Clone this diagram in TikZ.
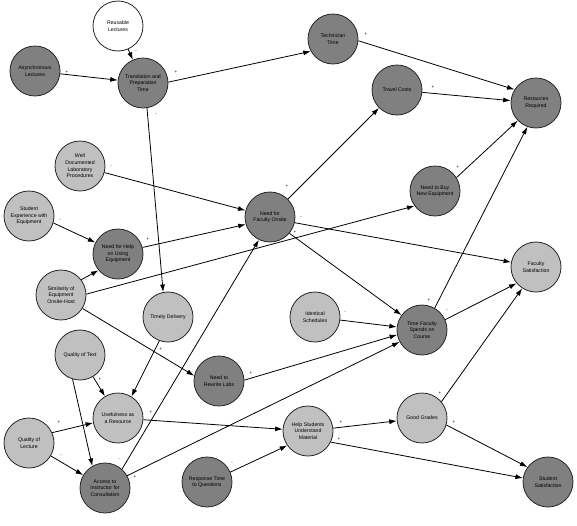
\documentclass[tikz,border=0pt]{standalone}
\usepackage{fontspec}
\setmainfont{Liberation Sans}
\usetikzlibrary{arrows.meta}
\definecolor{darkfill}{HTML}{808080}
\definecolor{lightfill}{HTML}{C0C0C0}
\tikzset{
  var/.style={circle, draw=black!85, line width=0.8pt, minimum size=50pt, inner sep=0pt,
    align=center, font=\fontsize{5.2}{6.6}\selectfont},
  darkvar/.style={var, fill=darkfill},
  lightvar/.style={var, fill=lightfill},
  whitevar/.style={var, fill=white},
  link/.style={draw=black, line width=0.8pt, -{Latex[length=7.5pt,width=5pt]}},
  sign/.style={font=\fontsize{4.5}{5}\selectfont, inner sep=0pt}
}
\begin{document}
\begin{tikzpicture}[x=1pt,y=-1pt]
\useasboundingbox (0,0) rectangle (577,525);
% nodes
\node[whitevar] (reu) at (118,26) {Reusable\\Lectures};
\node[darkvar] (asy) at (35,71) {Asynchronous\\Lectures};
\node[darkvar] (tr) at (143,83) {Translation and\\Preparation\\Time};
\node[darkvar] (tech) at (333,39) {Technician\\Time};
\node[darkvar] (trav) at (397,90) {Travel Costs};
\node[darkvar] (rr) at (536,103) {Resources\\Required};
\node[darkvar] (buy) at (435,191) {Need to Buy\\New Equipment};
\node[lightvar] (wd) at (80,166) {Well\\Documented\\Laboratory\\Procedures};
\node[lightvar] (se) at (29,216) {Student\\Experience with\\Equipment};
\node[darkvar] (nh) at (118,254) {Need for Help\\on Using\\Equipment};
\node[darkvar] (fo) at (270,217) {Need for\\Faculty Onsite};
\node[lightvar] (fs) at (536,267) {Faculty\\Satisfaction};
\node[darkvar] (tf) at (422,330) {Time Faculty\\Spends on\\Course};
\node[lightvar] (sim) at (61,295) {Similarity of\\Equipment\\Onsite-Host};
\node[lightvar] (td) at (168,317) {Timely Delivery};
\node[lightvar] (ids) at (315,317) {Identical\\Schedules};
\node[darkvar] (rw) at (219,381) {Need to\\Rewrite Labs};
\node[lightvar] (qt) at (80,355) {Quality of Text};
\node[lightvar] (use) at (118,418) {Usefulness as\\a Resource};
\node[lightvar] (ql) at (29,443) {Quality of\\Lecture};
\node[darkvar] (acc) at (105,488) {Access to\\Instructor for\\Consultation};
\node[lightvar] (hs) at (308,431) {Help Students\\Understand\\Material};
\node[darkvar] (rt) at (207,482) {Response Time\\to Questions};
\node[lightvar] (gg) at (422,418) {Good Grades};
\node[darkvar] (ss) at (548,482) {Student\\Satisfaction};
% links
\draw[link] (reu) -- (tr);
\draw[link] (asy) -- (tr);
\draw[link] (tr.2) -- (tech.209);
\draw[link] (tr.-81) -- (td.101);
\draw[link] (tech.-4) -- (rr.148);
\draw[link] (trav) -- (rr);
\draw[link] (fo) -- (trav);
\draw[link] (buy.32) -- (rr.224);
\draw[link] (tf.60) -- (rr.250);
\draw[link] (wd) -- (fo);
\draw[link] (se.-16) -- (nh.153);
\draw[link] (nh.15) -- (fo.197);
\draw[link] (sim.37) -- (nh.220);
\draw[link] (sim.2) -- (buy.216);
\draw[link] (sim.-32) -- (rw.168);
\draw[link] (fo.-13) -- (fs.169);
\draw[link] (fo.-40) -- (tf.144);
\draw[link] (tf.24) -- (fs.220);
\draw[link] (gg.40) -- (fs.237);
\draw[link] (ids) -- (tf);
\draw[link] (rw.2) -- (tf.191);
\draw[link] (acc.29) -- (tf.208);
\draw[link] (acc.48) -- (fo.244);
\draw[link] (td.250) -- (use.58);
\draw[link] (qt) -- (use);
\draw[link] (qt.-107) -- (acc.120);
\draw[link] (ql.24) -- (use.191);
\draw[link] (ql) -- (acc);
\draw[link] (use) -- (hs);
\draw[link] (rt.23) -- (hs.215);
\draw[link] (hs) -- (gg);
\draw[link] (hs.-26) -- (ss.171);
\draw[link] (gg.-16) -- (ss.144);
% polarity signs
\node[sign] (s1) at (136,52) {-};
\node[sign] (s2) at (67,72) {+};
\node[sign] (s3) at (176,72) {+};
\node[sign] (s4) at (156,115) {-};
\node[sign] (s5) at (366,34) {+};
\node[sign] (s6) at (433,87) {+};
\node[sign] (s7) at (287,186) {+};
\node[sign] (s8) at (458,167) {+};
\node[sign] (s9) at (429,300) {+};
\node[sign] (s10) at (111,167) {-};
\node[sign] (s11) at (60,221) {-};
\node[sign] (s12) at (148,239) {+};
\node[sign] (s13) at (86,281) {-};
\node[sign] (s14) at (86,309) {-};
\node[sign] (s15) at (301,218) {-};
\node[sign] (s16) at (295,232) {+};
\node[sign] (s17) at (447,311) {-};
\node[sign] (s18) at (440,393) {+};
\node[sign] (s19) at (345,313) {-};
\node[sign] (s20) at (251,373) {+};
\node[sign] (s21) at (135,477) {+};
\node[sign] (s22) at (119,460) {-};
\node[sign] (s23) at (161,349) {+};
\node[sign] (s24) at (100,379) {+};
\node[sign] (s25) at (67,379) {-};
\node[sign] (s26) at (59,422) {+};
\node[sign] (s27) at (61,456) {-};
\node[sign] (s28) at (151,412) {+};
\node[sign] (s29) at (232,464) {-};
\node[sign] (s30) at (341,422) {+};
\node[sign] (s31) at (339,439) {+};
\node[sign] (s32) at (454,422) {+};
\end{tikzpicture}
\end{document}
